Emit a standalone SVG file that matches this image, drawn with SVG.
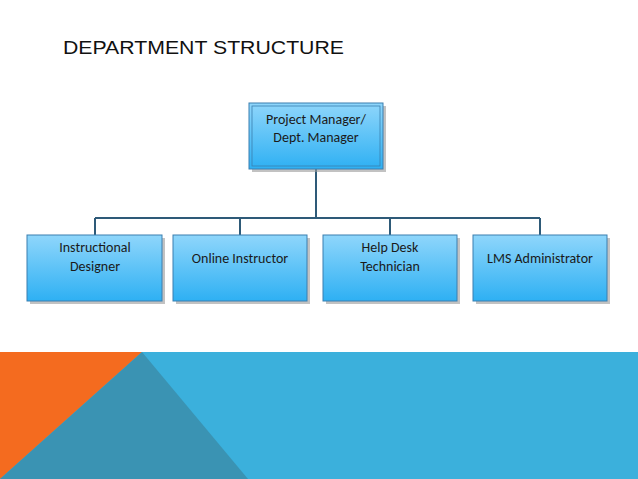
<svg xmlns="http://www.w3.org/2000/svg" width="638" height="479" viewBox="0 0 638 479">
<defs>
<linearGradient id="g" x1="0" y1="0" x2="0" y2="1"><stop offset="0" stop-color="#8fd6fb"/><stop offset="1" stop-color="#2eb0f3"/></linearGradient>
<style>
.b{fill:url(#g);stroke:#3a7fb0;stroke-width:1}
.s{fill:#9a9a9a;opacity:0.6}
.t{font-family:Carlito,"Liberation Sans",sans-serif;font-size:14px;fill:#1a1a1a;text-anchor:middle}
.c{stroke:#2e5a78;stroke-width:2;fill:none}
</style>
</defs>
<rect width="638" height="479" fill="#fff"/>
<text x="63" y="54" font-family="'Liberation Sans',sans-serif" font-size="19" fill="#111" textLength="281" lengthAdjust="spacingAndGlyphs">DEPARTMENT STRUCTURE</text>
<g id="connectors">
<path class="c" d="M316 169V218M95 218H540M95 218V235M240 218V235M390 218V235M540 218V235"/>
</g>
<g id="n0"><rect class="s" x="252" y="106" width="134" height="66"/><rect class="b" x="249" y="103" width="134" height="66"/><rect x="252" y="106" width="128" height="60" fill="none" stroke="#3a7fb0" stroke-width="0.8"/><text class="t" x="316" y="124">Project Manager/</text><text class="t" x="316" y="142">Dept. Manager</text></g>
<g id="n1"><rect class="s" x="30" y="238" width="135" height="66"/><rect class="b" x="27" y="235" width="135" height="66"/><text class="t" x="95" y="252">Instructional</text><text class="t" x="95" y="271">Designer</text></g>
<g id="n2"><rect class="s" x="176" y="238" width="134" height="66"/><rect class="b" x="173" y="235" width="134" height="66"/><text class="t" x="240" y="263">Online Instructor</text></g>
<g id="n3"><rect class="s" x="326" y="238" width="134" height="66"/><rect class="b" x="323" y="235" width="134" height="66"/><text class="t" x="390" y="252">Help Desk</text><text class="t" x="390" y="271">Technician</text></g>
<g id="n4"><rect class="s" x="476" y="238" width="134" height="66"/><rect class="b" x="473" y="235" width="134" height="66"/><text class="t" x="540" y="263">LMS Administrator</text></g>
<rect x="0" y="352" width="638" height="127" fill="#3bb0dc"/>
<polygon points="0,352 142,352 0,479" fill="#f46b1f"/>
<polygon points="142,352 248,479 0,479" fill="#3a93b3"/>
</svg>
